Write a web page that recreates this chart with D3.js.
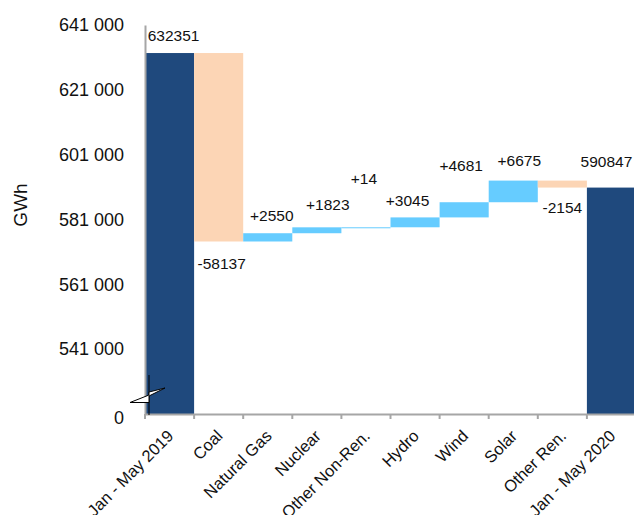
<!DOCTYPE html>
<html><head><meta charset="utf-8">
<script src="https://cdn.jsdelivr.net/npm/d3@7"></script>
<style>
html,body{margin:0;padding:0;background:#fff;}
svg{display:block;}
</style></head>
<body><svg id="chart" width="634" height="515"></svg>
<script>
// ---- data ----
const categories = ["Jan - May 2019","Coal","Natural Gas","Nuclear","Other Non-Ren.","Hydro","Wind","Solar","Other Ren.","Jan - May 2020"];
const values = [632351, -58137, 2550, 1823, 14, 3045, 4681, 6675, -2154, 590847];
const isTotal = [true, false, false, false, false, false, false, false, false, true];
const yTicks = [541000, 561000, 581000, 601000, 621000, 641000];
const axisBreakValue = 521000; // shown as "0"

// ---- layout/style ----
const labelNudgeX = [4, 3, 4, 11, -2, -7.5, -3, 6, 0, -5];
const labelNudgeY = [-17, 22.5, -18, -23, -49, -17, -37, -20, 20, -26];
const colors = {total:"#1F497D", up:"#66CCFF", down:"#FCD5B5"};

const svg = d3.select("#chart");
const x = d3.scaleBand().domain(categories).range([145, 636]).paddingInner(0).paddingOuter(0);
const y = d3.scaleLinear().domain([axisBreakValue, 641000]).range([414, 25]);

// compute waterfall segments
let running = 0;
const segs = categories.map((c, i) => {
  let y0, y1;
  if (isTotal[i]) { y0 = axisBreakValue; y1 = values[i]; running = values[i]; }
  else { y0 = running; y1 = running + values[i]; running = y1; }
  return {c, i, v: values[i], lo: Math.min(y0, y1), hi: Math.max(y0, y1), total: isTotal[i]};
});

// bars
svg.append("g").selectAll("rect").data(segs).join("rect")
  .attr("x", d => x(d.c))
  .attr("width", x.bandwidth())
  .attr("y", d => y(d.hi))
  .attr("height", d => Math.max(1, y(d.lo) - y(d.hi)))
  .attr("fill", d => d.total ? colors.total : (d.v >= 0 ? colors.up : colors.down));

// value labels
svg.append("g").selectAll("text").data(segs).join("text")
  .attr("x", d => x(d.c) + x.bandwidth()/2 + labelNudgeX[d.i])
  .attr("y", d => (d.v < 0 && !d.total ? y(d.lo) : y(d.hi)) + labelNudgeY[d.i])
  .attr("dy", "0.35em")
  .attr("text-anchor", "middle")
  .attr("font-family", "Liberation Sans, Arial, sans-serif")
  .attr("font-size", 15.5)
  .attr("fill", "#111")
  .text(d => d.total ? String(d.v) : (d.v > 0 ? "+" + d.v : String(d.v)));

// y axis
const fmt = v => v === axisBreakValue ? "0" : d3.format(",")(v).replace(/,/g, " ");
const yAxis = svg.append("g").attr("transform", "translate(145,0)")
  .call(d3.axisLeft(y).tickValues([axisBreakValue].concat(yTicks)).tickFormat(fmt).tickSize(0).tickPadding(21));
yAxis.select(".domain").attr("stroke", "#A6A6A6").attr("stroke-width", 2);
yAxis.selectAll("text").attr("font-family", "Liberation Sans, Arial, sans-serif").attr("font-size", 18).attr("fill", "#111");
yAxis.selectAll(".tick").filter(d => d === axisBreakValue).select("text").attr("dy", "0.55em");

// x axis
const base = y(axisBreakValue);
const xAxis = svg.append("g").attr("transform", `translate(0,${base})`)
  .call(d3.axisBottom(x).tickSize(0).tickSizeOuter(0).tickPadding(0));
xAxis.select(".domain").attr("stroke", "#A6A6A6").attr("stroke-width", 2);
xAxis.selectAll(".tick text")
  .attr("font-family", "Liberation Sans, Arial, sans-serif")
  .attr("font-size", 16.5)
  .attr("fill", "#111")
  .attr("text-anchor", "end")
  .attr("dy", null)
  .attr("transform", "translate(5,23) rotate(-45)");
// boundary ticks
const bounds = categories.map(c => x(c));
svg.append("g").selectAll("line").data(bounds).join("line")
  .attr("x1", d => d).attr("x2", d => d)
  .attr("y1", base).attr("y2", base + 5)
  .attr("stroke", "#A6A6A6").attr("stroke-width", 2);

// axis break symbol
const ax = 145;
const bg = svg.append("g");
bg.append("line").attr("x1", ax + 4).attr("x2", ax + 4).attr("y1", base - 39).attr("y2", base + 1)
  .attr("stroke", "#000").attr("stroke-width", 1);
bg.append("path")
  .attr("d", `M${ax-15},${base-11.5} L${ax+4},${base-19} L${ax+4},${base-22} L${ax+20},${base-26} L${ax+4},${base-18} L${ax+4},${base-11.5} Z`)
  .attr("fill", "#fff").attr("stroke", "#000").attr("stroke-width", 1);

// y title
svg.append("text")
  .attr("transform", "translate(27,205) rotate(-90)")
  .attr("text-anchor", "middle")
  .attr("font-family", "Liberation Sans, Arial, sans-serif")
  .attr("font-size", 19)
  .attr("fill", "#111")
  .text("GWh");
</script>
</body></html>
